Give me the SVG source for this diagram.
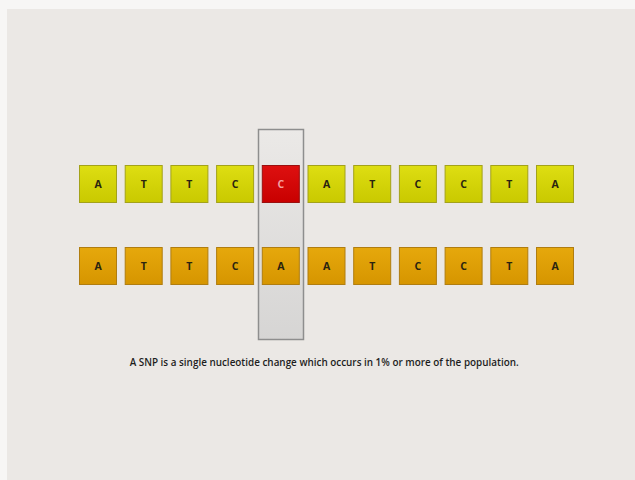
<svg xmlns="http://www.w3.org/2000/svg" width="635" height="480" viewBox="0 0 635 480">
<defs>
<linearGradient id="gy" x1="0" y1="0" x2="0" y2="1"><stop offset="0" stop-color="#dede12"/><stop offset="1" stop-color="#c9c900"/></linearGradient>
<linearGradient id="go" x1="0" y1="0" x2="0" y2="1"><stop offset="0" stop-color="#e6a80c"/><stop offset="1" stop-color="#d69500"/></linearGradient>
<linearGradient id="gr" x1="0" y1="0" x2="0" y2="1"><stop offset="0" stop-color="#de1010"/><stop offset="1" stop-color="#c80000"/></linearGradient>
<linearGradient id="gh" x1="0" y1="0" x2="0" y2="1"><stop offset="0" stop-color="#ebe9e7"/><stop offset="1" stop-color="#d6d5d4"/></linearGradient>
</defs>
<style>
.y{fill:url(#gy);stroke:#a3a21a;stroke-width:1}
.o{fill:url(#go);stroke:#b07d10;stroke-width:1}
.r{fill:url(#gr);stroke:#9a1010;stroke-width:1}
.l{font-family:"Open Sans","Liberation Sans",sans-serif;font-size:10.5px;font-weight:bold;fill:#2a2410;text-anchor:middle}
.lr{fill:#f4a0a0}
.cap{font-family:"Open Sans","Liberation Sans",sans-serif;font-size:10px;font-weight:600;fill:#1e1e1e;text-anchor:middle}
</style>
<rect x="0" y="0" width="635" height="480" fill="#f7f6f5"/>
<rect x="7" y="9" width="628" height="471" fill="#ebe8e5"/>
<g id="highlight"><rect x="258.5" y="129.5" width="45" height="210" fill="url(#gh)" stroke="#8e8e8e" stroke-width="1.5"/></g>
<g id="row1">
<g id="t1"><rect class="y" x="79.5" y="165.5" width="37" height="37"/><text class="l" x="98" y="188">A</text></g>
<g id="t2"><rect class="y" x="125.2" y="165.5" width="37" height="37"/><text class="l" x="143.7" y="188">T</text></g>
<g id="t3"><rect class="y" x="170.9" y="165.5" width="37" height="37"/><text class="l" x="189.4" y="188">T</text></g>
<g id="t4"><rect class="y" x="216.6" y="165.5" width="37" height="37"/><text class="l" x="235.1" y="188">C</text></g>
<g id="t5"><rect class="r" x="262.3" y="165.5" width="37" height="37"/><text class="l lr" x="280.8" y="188">C</text></g>
<g id="t6"><rect class="y" x="308" y="165.5" width="37" height="37"/><text class="l" x="326.5" y="188">A</text></g>
<g id="t7"><rect class="y" x="353.7" y="165.5" width="37" height="37"/><text class="l" x="372.2" y="188">T</text></g>
<g id="t8"><rect class="y" x="399.4" y="165.5" width="37" height="37"/><text class="l" x="417.9" y="188">C</text></g>
<g id="t9"><rect class="y" x="445.1" y="165.5" width="37" height="37"/><text class="l" x="463.6" y="188">C</text></g>
<g id="t10"><rect class="y" x="490.8" y="165.5" width="37" height="37"/><text class="l" x="509.3" y="188">T</text></g>
<g id="t11"><rect class="y" x="536.5" y="165.5" width="37" height="37"/><text class="l" x="555" y="188">A</text></g>
</g>
<g id="row2">
<g id="b1"><rect class="o" x="79.5" y="247.5" width="37" height="37"/><text class="l" x="98" y="270">A</text></g>
<g id="b2"><rect class="o" x="125.2" y="247.5" width="37" height="37"/><text class="l" x="143.7" y="270">T</text></g>
<g id="b3"><rect class="o" x="170.9" y="247.5" width="37" height="37"/><text class="l" x="189.4" y="270">T</text></g>
<g id="b4"><rect class="o" x="216.6" y="247.5" width="37" height="37"/><text class="l" x="235.1" y="270">C</text></g>
<g id="b5"><rect class="o" x="262.3" y="247.5" width="37" height="37"/><text class="l" x="280.8" y="270">A</text></g>
<g id="b6"><rect class="o" x="308" y="247.5" width="37" height="37"/><text class="l" x="326.5" y="270">A</text></g>
<g id="b7"><rect class="o" x="353.7" y="247.5" width="37" height="37"/><text class="l" x="372.2" y="270">T</text></g>
<g id="b8"><rect class="o" x="399.4" y="247.5" width="37" height="37"/><text class="l" x="417.9" y="270">C</text></g>
<g id="b9"><rect class="o" x="445.1" y="247.5" width="37" height="37"/><text class="l" x="463.6" y="270">C</text></g>
<g id="b10"><rect class="o" x="490.8" y="247.5" width="37" height="37"/><text class="l" x="509.3" y="270">T</text></g>
<g id="b11"><rect class="o" x="536.5" y="247.5" width="37" height="37"/><text class="l" x="555" y="270">A</text></g>
</g>
<g id="caption"><text class="cap" x="324.2" y="365.5" textLength="389" lengthAdjust="spacingAndGlyphs">A SNP is a single nucleotide change which occurs in 1% or more of the population.</text></g>
<g id="connectors"/>
</svg>
